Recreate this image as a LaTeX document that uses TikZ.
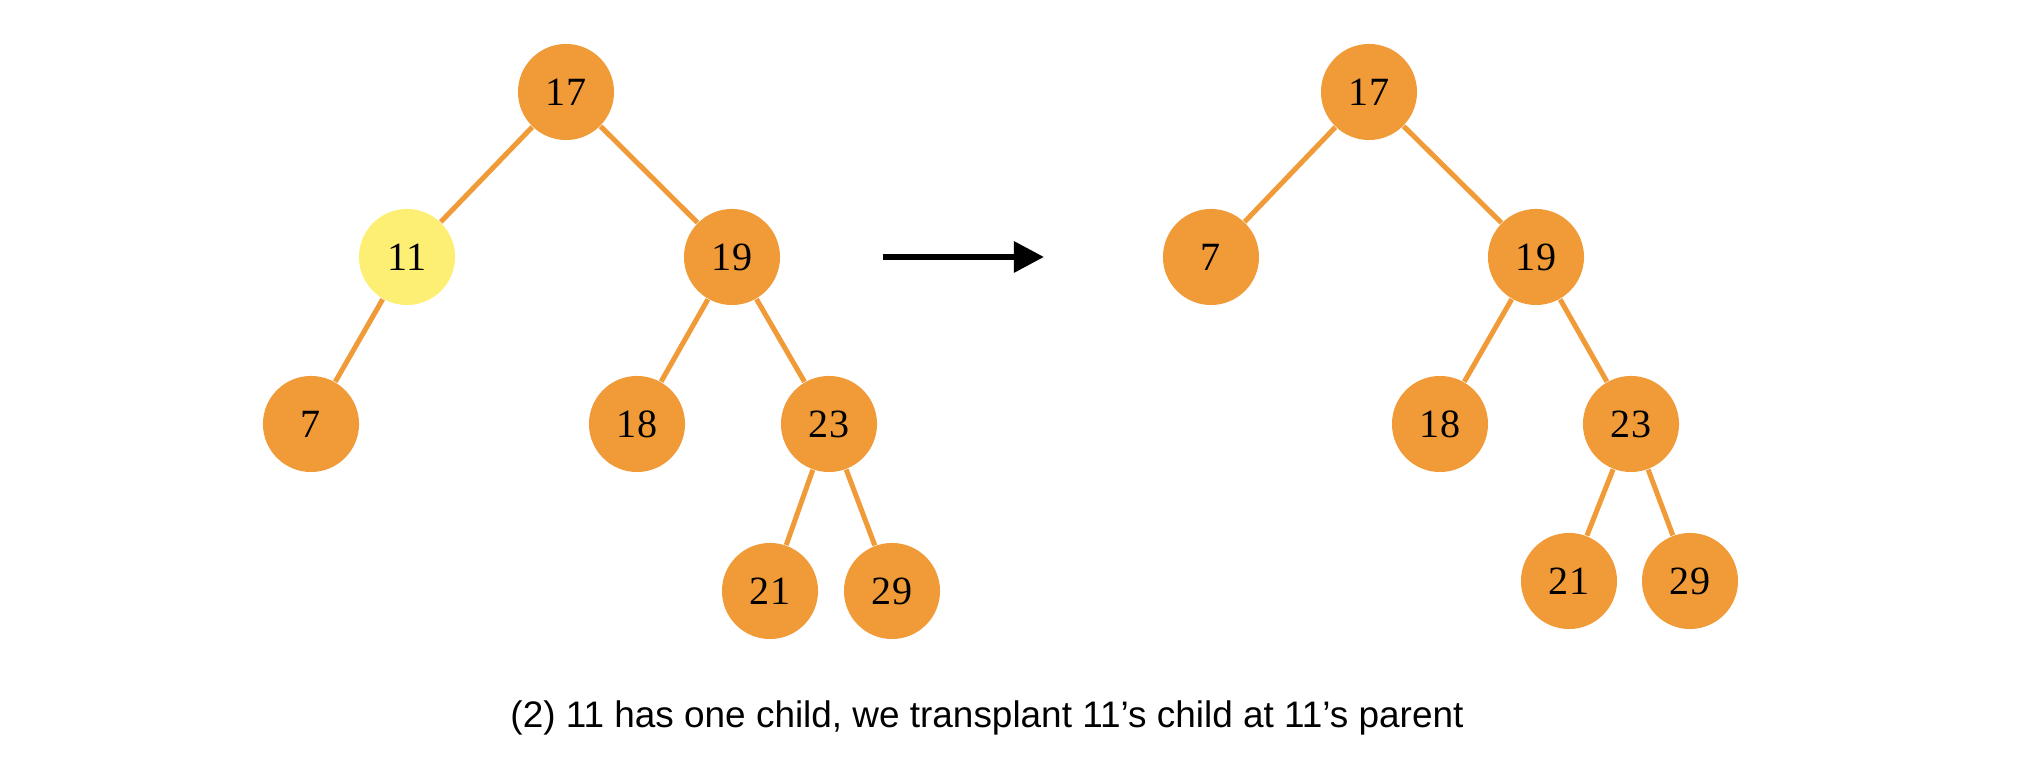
\documentclass[tikz,border=0pt]{standalone}
\usepackage{fontspec}
\setmainfont{Liberation Serif}
\newfontfamily\capfont{Liberation Sans}
\usetikzlibrary{arrows.meta}
\definecolor{treeorange}{HTML}{F09A38}
\definecolor{treeyellow}{HTML}{FDEF74}
\tikzset{
	keynode/.style={circle, fill=treeorange, inner sep=0pt, minimum size=0.96cm, font=\fontsize{11.4}{13}\selectfont},
	gonenode/.style={keynode, fill=treeyellow},
	treeedge/.style={draw=treeorange, line width=0.05cm}
}

\begin{document}
\begin{tikzpicture}[x=0.01cm, y=-0.01cm]
			%%%%% START %%%%%
			
			\useasboundingbox (0, 0) rectangle (2038, 774);
			
			% before
			\node[keynode] (l17) at (566, 92) {17};
			\node[gonenode] (l11) at (407, 257) {11};
			\node[keynode] (l19) at (732, 257) {19};
			\node[keynode] (l7) at (311, 424) {7};
			\node[keynode] (l18) at (637, 424) {18};
			\node[keynode] (l23) at (829, 424) {23};
			\node[keynode] (l21) at (770, 591) {21};
			\node[keynode] (l29) at (892, 591) {29};
			
			\draw[treeedge] (l17) -- (l11);
			\draw[treeedge] (l17) -- (l19);
			\draw[treeedge] (l11) -- (l7);
			\draw[treeedge] (l19) -- (l18);
			\draw[treeedge] (l19) -- (l23);
			\draw[treeedge] (l23) -- (l21);
			\draw[treeedge] (l23) -- (l29);
			
			% arrow
			\coordinate (arrS) at (883, 257);
			\coordinate (arrE) at (1044, 257);
			\draw[line width=0.06cm, -{Triangle[length=0.3cm, width=0.3cm]}] (arrS) -- (arrE);
			
			% after
			\node[keynode] (r17) at (1369, 92) {17};
			\node[keynode] (r7) at (1211, 257) {7};
			\node[keynode] (r19) at (1536, 257) {19};
			\node[keynode] (r18) at (1440, 424) {18};
			\node[keynode] (r23) at (1631, 424) {23};
			\node[keynode] (r21) at (1569, 581) {21};
			\node[keynode] (r29) at (1690, 581) {29};
			
			\draw[treeedge] (r17) -- (r7);
			\draw[treeedge] (r17) -- (r19);
			\draw[treeedge] (r19) -- (r18);
			\draw[treeedge] (r19) -- (r23);
			\draw[treeedge] (r23) -- (r21);
			\draw[treeedge] (r23) -- (r29);
			
			\node[font=\capfont\fontsize{10.5}{12}\selectfont] (caption) at (987, 718) {(2) 11 has one child, we transplant 11’s child at 11’s parent};
			
			%%%%% END %%%%%
\end{tikzpicture}
\end{document}
